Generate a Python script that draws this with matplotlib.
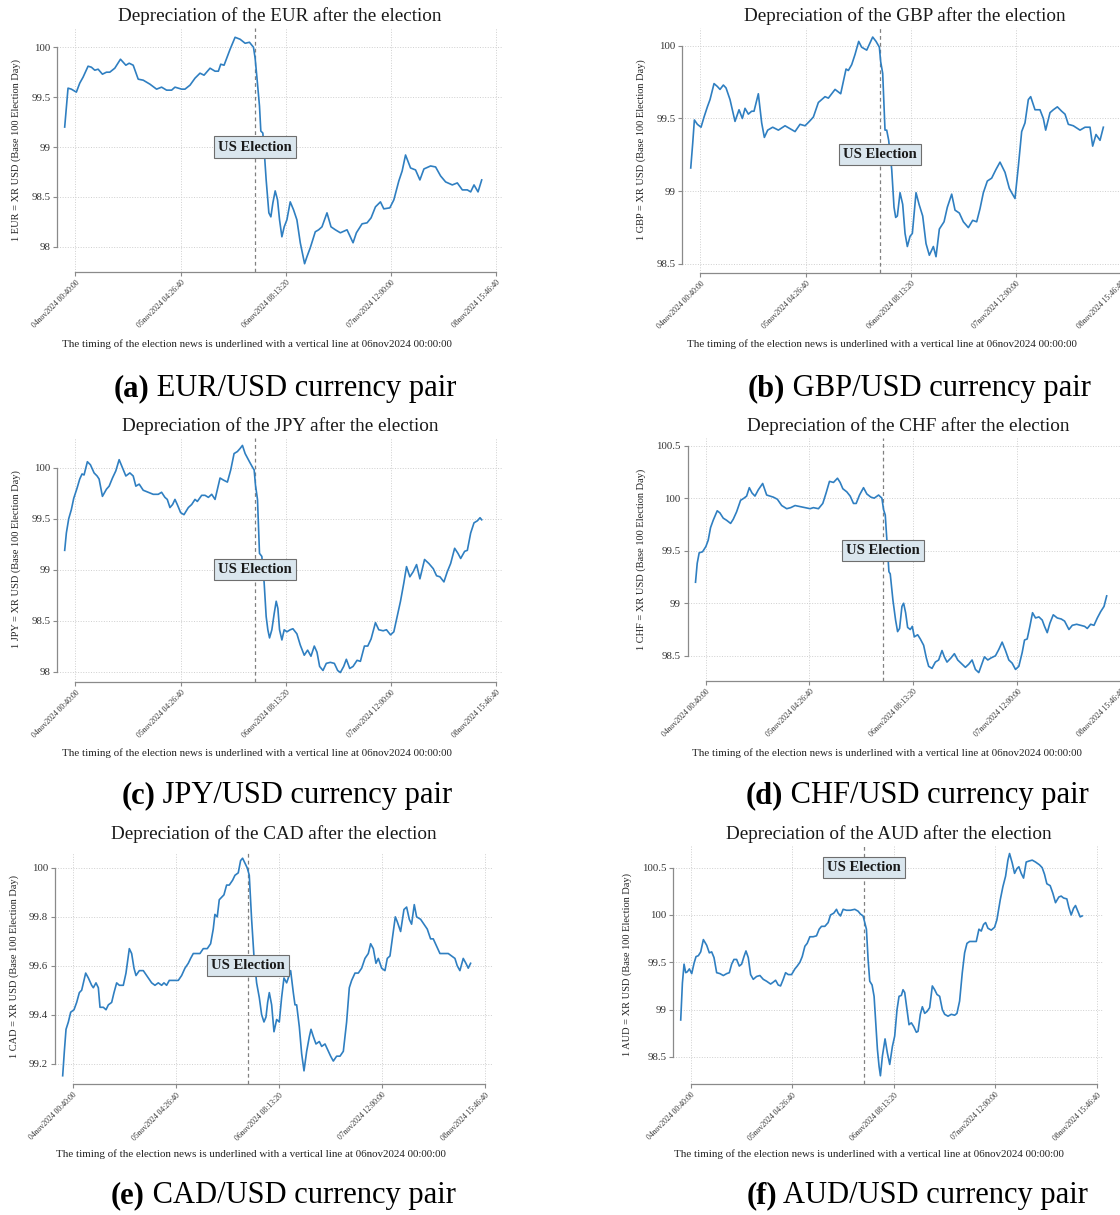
import matplotlib
matplotlib.use("Agg")
import matplotlib.pyplot as plt

plt.rcParams['font.family'] = ['Liberation Serif', 'DejaVu Serif']

# ---- data (x = hours since 04nov2024 00:00, y = index, base 100 on election day) ----
eur_hours = [-2.15, -1.27, -0.39, 0.93, 1.82, 2.70, 4.02, 4.90, 5.79, 6.67, 7.81, 8.87, 9.75, 11.07,
             12.57, 13.99, 14.87, 15.93, 17.25, 18.57, 20.34, 22.10, 23.42, 24.74, 26.07, 26.95, 28.71,
             29.59, 30.92, 32.24, 33.56, 34.62, 36.21, 37.53, 38.41, 39.03, 39.91, 41.50, 42.82, 44.15,
             45.47, 46.61, 47.67, 48.11, 48.55, 49.26, 49.61, 50.14, 50.49, 51.02, 51.73, 52.26, 52.79,
             53.40, 54.02, 54.55, 55.17, 55.78, 56.49, 57.37, 58.25, 59.13, 60.02, 61.16, 61.78, 62.66,
             63.98, 64.87, 65.75, 67.07, 68.13, 69.28, 70.60, 72.36, 73.95, 74.83, 76.33, 77.65, 78.71,
             79.86, 81.18, 82.06, 83.65, 84.71, 86.03, 86.91, 87.80, 89.12, 90.44, 91.59, 92.65, 94.41,
             95.73, 97.05, 98.38, 100.14, 101.46, 102.79, 104.11, 104.99, 105.87, 106.93, 107.90]
eur_values = [99.20, 99.59, 99.58, 99.55, 99.64, 99.70, 99.81, 99.80, 99.77, 99.78, 99.73, 99.75, 99.75, 99.79,
              99.88, 99.82, 99.84, 99.82, 99.68, 99.67, 99.63, 99.58, 99.60, 99.57, 99.57, 99.60, 99.58,
              99.58, 99.62, 99.69, 99.74, 99.72, 99.79, 99.76, 99.76, 99.83, 99.82, 99.98, 100.10, 100.08,
              100.04, 100.05, 100.00, 99.89, 99.71, 99.41, 99.16, 99.14, 98.97, 98.67, 98.34, 98.30, 98.44,
              98.56, 98.47, 98.27, 98.10, 98.20, 98.27, 98.45, 98.37, 98.27, 98.04, 97.83, 97.90, 97.99,
              98.15, 98.17, 98.20, 98.34, 98.20, 98.17, 98.14, 98.17, 98.04, 98.14, 98.23, 98.24, 98.29,
              98.40, 98.45, 98.38, 98.39, 98.47, 98.66, 98.76, 98.92, 98.79, 98.77, 98.67, 98.78, 98.81,
              98.80, 98.71, 98.65, 98.62, 98.64, 98.57, 98.57, 98.55, 98.62, 98.55, 98.67]

gbp_hours = [-1.87, -1.35, -0.91, -0.12, 0.85, 1.64, 2.52, 3.22, 4.28, 5.16, 5.86, 6.74, 7.45, 8.50, 9.82,
             10.88, 11.76, 12.46, 13.34, 14.22, 14.84, 15.98, 16.86, 17.57, 18.45, 19.77, 21.27, 23.03,
             24.35, 25.67, 26.99, 28.31, 29.46, 30.51, 31.83, 32.71, 33.59, 34.47, 36.24, 37.73, 39.14,
             39.75, 40.63, 41.51, 42.48, 43.27, 44.60, 46.18, 47.06, 47.94, 48.29, 48.82, 49.43, 49.88,
             50.40, 51.20, 51.81, 52.25, 52.69, 53.40, 54.10, 54.72, 55.33, 56.04, 56.65, 57.62, 58.42,
             59.38, 60.26, 61.14, 62.20, 62.90, 63.78, 65.02, 65.89, 67.04, 67.92, 69.06, 70.12, 71.44,
             72.58, 73.64, 74.52, 75.40, 76.45, 77.60, 78.74, 79.80, 81.12, 82.26, 82.88, 83.76, 84.64,
             85.52, 86.40, 87.28, 87.90, 89.04, 90.36, 91.24, 91.86, 93.00, 93.88, 94.94, 96.08, 96.96,
             97.84, 99.16, 100.93, 102.25, 103.57, 104.27, 105.15, 106.21, 107.09]
gbp_values = [99.16, 99.33, 99.49, 99.46, 99.44, 99.51, 99.58, 99.63, 99.74, 99.72, 99.70, 99.73, 99.71, 99.63,
              99.48, 99.56, 99.50, 99.57, 99.53, 99.55, 99.55, 99.67, 99.47, 99.37, 99.42, 99.44, 99.42,
              99.45, 99.43, 99.41, 99.46, 99.45, 99.48, 99.51, 99.61, 99.63, 99.65, 99.64, 99.70, 99.67,
              99.84, 99.83, 99.87, 99.94, 100.03, 99.99, 99.97, 100.06, 100.03, 99.99, 99.89, 99.81, 99.42,
              99.42, 99.35, 99.15, 98.89, 98.82, 98.83, 98.99, 98.91, 98.71, 98.62, 98.69, 98.71, 98.99,
              98.91, 98.83, 98.64, 98.56, 98.62, 98.55, 98.74, 98.79, 98.89, 98.98, 98.87, 98.85, 98.79,
              98.75, 98.80, 98.79, 98.88, 98.99, 99.07, 99.09, 99.15, 99.20, 99.13, 99.02, 98.99, 98.95,
              99.17, 99.41, 99.47, 99.63, 99.65, 99.56, 99.56, 99.50, 99.42, 99.54, 99.56, 99.58, 99.55,
              99.53, 99.46, 99.45, 99.42, 99.44, 99.44, 99.31, 99.39, 99.35, 99.44]

jpy_hours = [-2.15, -1.71, -1.09, -0.39, 0.23, 1.11, 1.82, 2.43, 2.96, 3.84, 4.64, 5.61, 6.40, 6.93, 7.81,
             8.87, 9.58, 10.46, 11.34, 12.22, 13.10, 13.99, 15.05, 15.93, 16.63, 17.51, 18.57, 19.89, 21.22,
             22.54, 23.42, 24.30, 24.92, 25.63, 26.33, 26.95, 27.56, 28.45, 29.33, 30.48, 31.36, 32.24,
             32.86, 34.00, 34.89, 35.77, 36.65, 37.53, 38.85, 39.73, 40.79, 41.67, 42.55, 43.43, 44.14,
             44.76, 45.47, 46.61, 47.50, 47.85, 48.20, 48.73, 49.26, 49.88, 50.49, 51.02, 51.46, 51.91,
             52.52, 53.14, 53.67, 54.11, 54.55, 55.17, 55.78, 56.49, 57.37, 58.08, 59.13, 60.02, 61.07,
             61.96, 62.84, 63.72, 64.43, 65.13, 66.01, 66.89, 67.95, 69.01, 69.89, 70.60, 71.48, 72.18,
             73.07, 73.95, 75.01, 75.89, 76.95, 77.83, 78.71, 79.86, 80.74, 81.89, 82.77, 83.83, 84.71,
             85.59, 86.47, 87.35, 88.06, 88.94, 89.82, 90.71, 91.59, 92.82, 93.97, 95.11, 95.99, 96.88,
             97.93, 98.82, 99.70, 100.76, 101.64, 102.35, 103.40, 104.11, 104.99, 105.87, 106.76, 107.46,
             107.90]
jpy_values = [99.19, 99.36, 99.50, 99.59, 99.70, 99.80, 99.89, 99.94, 99.93, 100.06, 100.03, 99.95, 99.92,
              99.89, 99.72, 99.79, 99.82, 99.90, 99.97, 100.08, 100.00, 99.92, 99.95, 99.92, 99.82, 99.84,
              99.78, 99.76, 99.74, 99.74, 99.76, 99.71, 99.69, 99.61, 99.64, 99.69, 99.64, 99.56, 99.54,
              99.61, 99.64, 99.69, 99.67, 99.73, 99.73, 99.71, 99.74, 99.69, 99.90, 99.88, 99.86, 99.98,
              100.14, 100.16, 100.19, 100.22, 100.14, 100.06, 100.00, 99.98, 99.83, 99.69, 99.16, 99.13,
              98.87, 98.54, 98.41, 98.33, 98.41, 98.57, 98.69, 98.62, 98.41, 98.31, 98.41, 98.39, 98.41,
              98.42, 98.37, 98.26, 98.16, 98.21, 98.15, 98.25, 98.19, 98.05, 98.01, 98.08, 98.09, 98.08,
              98.01, 97.99, 98.05, 98.12, 98.03, 98.05, 98.11, 98.10, 98.25, 98.25, 98.32, 98.48, 98.41,
              98.40, 98.41, 98.36, 98.39, 98.54, 98.69, 98.87, 99.03, 98.93, 98.98, 99.05, 98.91, 99.10,
              99.06, 99.01, 98.94, 98.93, 98.88, 98.98, 99.06, 99.21, 99.16, 99.11, 99.18, 99.19, 99.36,
              99.46, 99.48, 99.51, 99.49]

chf_hours = [-2.01, -1.56, -1.03, -0.13, 0.76, 1.38, 2.01, 2.72, 3.79, 4.51, 5.40, 6.29, 7.37, 8.08, 8.97,
             10.04, 10.94, 11.65, 12.37, 13.08, 13.88, 14.78, 15.94, 17.01, 17.90, 18.79, 19.87, 21.03,
             22.37, 23.44, 24.60, 25.94, 27.28, 28.62, 29.51, 30.85, 32.01, 32.90, 33.80, 34.87, 35.94,
             36.65, 37.37, 38.44, 39.33, 40.22, 40.94, 41.83, 42.90, 43.79, 44.87, 45.76, 46.92, 47.81,
             48.26, 48.71, 49.15, 49.69, 50.04, 50.76, 51.47, 52.01, 52.54, 53.17, 53.62, 54.15, 54.69,
             55.40, 55.94, 56.47, 57.37, 58.08, 58.97, 59.69, 60.31, 61.21, 62.10, 62.99, 63.88, 64.51,
             65.22, 66.29, 67.19, 68.08, 69.24, 70.13, 71.03, 71.92, 72.81, 73.71, 74.60, 75.22, 76.12,
             77.01, 78.17, 79.06, 79.96, 80.85, 81.74, 82.63, 83.53, 84.42, 85.31, 85.94, 86.65, 87.37,
             88.08, 88.88, 89.78, 90.67, 91.29, 92.01, 92.72, 93.62, 94.69, 95.76, 96.65, 97.81, 98.71,
             99.87, 100.94, 102.01, 102.72, 103.62, 104.51, 105.40, 106.29, 107.19, 107.90]
chf_values = [99.20, 99.38, 99.48, 99.49, 99.54, 99.60, 99.72, 99.79, 99.88, 99.86, 99.81, 99.79, 99.76,
              99.80, 99.87, 99.98, 100.00, 100.02, 100.10, 100.05, 100.02, 100.08, 100.14, 100.03, 100.02,
              100.01, 99.99, 99.93, 99.90, 99.91, 99.93, 99.92, 99.91, 99.90, 99.91, 99.90, 99.95, 100.05,
              100.16, 100.15, 100.19, 100.15, 100.09, 100.06, 100.02, 99.95, 99.95, 100.03, 100.10, 100.04,
              100.01, 100.00, 100.03, 100.00, 99.89, 99.84, 99.60, 99.30, 99.28, 99.03, 98.84, 98.73, 98.76,
              98.97, 99.00, 98.91, 98.77, 98.75, 98.78, 98.68, 98.70, 98.66, 98.60, 98.48, 98.40, 98.38,
              98.44, 98.46, 98.55, 98.49, 98.44, 98.48, 98.52, 98.46, 98.42, 98.39, 98.42, 98.46, 98.37,
              98.34, 98.43, 98.49, 98.46, 98.48, 98.50, 98.56, 98.63, 98.55, 98.46, 98.43, 98.37, 98.40,
              98.53, 98.65, 98.66, 98.78, 98.91, 98.86, 98.87, 98.84, 98.78, 98.72, 98.81, 98.89, 98.86,
              98.85, 98.83, 98.75, 98.79, 98.80, 98.79, 98.78, 98.76, 98.80, 98.79, 98.86, 98.92, 98.97,
              99.07]

cad_hours = [-2.03, -1.58, -1.13, -0.50, 0.13, 1.02, 1.74, 2.46, 3.09, 3.54, 4.17, 4.89, 5.78, 6.23, 6.95,
             7.58, 8.03, 8.93, 9.65, 10.28, 11.17, 11.80, 12.52, 13.24, 14.31, 15.03, 15.93, 16.56, 17.19,
             17.73, 18.63, 19.70, 20.60, 21.95, 22.84, 23.74, 24.64, 25.27, 25.98, 26.70, 27.78, 29.13,
             30.03, 30.92, 31.82, 32.45, 33.17, 34.07, 34.97, 35.86, 36.94, 37.84, 38.55, 39.00, 39.63,
             40.17, 40.80, 41.43, 42.15, 42.87, 43.77, 44.40, 45.29, 45.92, 46.46, 47.09, 47.72, 48.26,
             48.89, 49.52, 50.24, 50.96, 51.59, 52.22, 52.76, 53.21, 53.66, 54.29, 54.92, 55.64, 56.35,
             56.98, 57.61, 58.33, 58.78, 59.41, 60.13, 60.58, 61.03, 61.75, 62.38, 63.01, 63.73, 64.45,
             64.90, 65.53, 66.24, 67.14, 67.77, 68.67, 69.57, 70.19, 70.91, 71.81, 72.71, 73.61, 74.50,
             75.22, 75.85, 76.75, 77.65, 78.55, 79.44, 80.34, 80.97, 81.69, 82.41, 83.04, 83.94, 84.83,
             85.46, 86.18, 86.90, 87.62, 88.15, 89.05, 89.95, 90.67, 91.39, 92.01, 92.73, 93.36, 94.44,
             95.34, 96.23, 97.13, 97.85, 98.75, 99.65, 100.72, 101.89, 102.79, 103.69, 104.31, 105.03,
             105.93, 106.65, 107.28, 107.91]
cad_values = [99.15, 99.25, 99.34, 99.37, 99.41, 99.42, 99.45, 99.49, 99.50, 99.53, 99.57, 99.55, 99.52,
              99.51, 99.53, 99.51, 99.43, 99.43, 99.42, 99.44, 99.45, 99.49, 99.53, 99.52, 99.52, 99.57,
              99.67, 99.65, 99.59, 99.56, 99.58, 99.58, 99.56, 99.53, 99.52, 99.53, 99.52, 99.53, 99.52,
              99.54, 99.54, 99.54, 99.56, 99.59, 99.61, 99.63, 99.65, 99.65, 99.65, 99.67, 99.67, 99.69,
              99.75, 99.81, 99.80, 99.87, 99.88, 99.89, 99.93, 99.93, 99.95, 99.97, 99.98, 100.03, 100.04,
              100.02, 100.00, 99.97, 99.79, 99.64, 99.53, 99.47, 99.40, 99.37, 99.39, 99.45, 99.49, 99.44,
              99.33, 99.38, 99.37, 99.47, 99.55, 99.53, 99.55, 99.58, 99.49, 99.44, 99.44, 99.35, 99.24,
              99.17, 99.25, 99.31, 99.34, 99.31, 99.28, 99.29, 99.27, 99.28, 99.25, 99.23, 99.21, 99.23,
              99.23, 99.25, 99.37, 99.51, 99.54, 99.57, 99.57, 99.59, 99.63, 99.65, 99.69, 99.67, 99.61,
              99.63, 99.59, 99.58, 99.63, 99.64, 99.72, 99.80, 99.78, 99.74, 99.83, 99.84, 99.79, 99.77,
              99.85, 99.80, 99.79, 99.77, 99.75, 99.71, 99.71, 99.68, 99.65, 99.65, 99.65, 99.64, 99.63,
              99.60, 99.58, 99.63, 99.61, 99.59, 99.61]

aud_hours = [-2.07, -1.61, -1.16, -0.70, -0.25, 0.30, 0.94, 1.58, 2.12, 2.76, 3.40, 4.13, 5.04, 5.76, 6.40,
             7.04, 7.77, 8.68, 9.59, 10.50, 11.23, 11.87, 12.50, 13.23, 13.96, 14.60, 15.24, 15.79, 16.42,
             17.06, 17.79, 18.70, 19.61, 20.52, 21.43, 22.53, 23.26, 23.90, 24.62, 25.26, 25.99, 26.63,
             27.36, 28.27, 29.18, 29.82, 30.55, 31.19, 31.92, 32.55, 33.28, 34.19, 35.10, 35.83, 36.47,
             37.38, 38.29, 38.93, 39.84, 40.57, 41.02, 41.66, 42.39, 43.30, 44.39, 45.58, 46.49, 47.12,
             47.85, 48.31, 48.76, 49.22, 49.67, 50.31, 50.86, 51.31, 51.77, 52.22, 52.59, 53.14, 53.86,
             54.50, 55.14, 55.87, 56.50, 57.14, 57.69, 58.33, 58.78, 59.24, 59.88, 60.42, 61.06, 61.70,
             62.43, 62.89, 63.52, 64.07, 64.71, 65.35, 66.07, 66.80, 67.44, 68.08, 68.81, 69.54, 70.18,
             71.09, 72.00, 72.91, 73.54, 74.27, 75.00, 75.64, 76.28, 77.01, 77.92, 78.83, 79.56, 80.19,
             80.83, 81.38, 82.02, 82.93, 83.84, 84.48, 85.39, 86.12, 86.85, 87.49, 87.94, 88.67, 89.31,
             89.95, 90.49, 91.13, 91.77, 92.50, 93.23, 94.14, 95.05, 96.14, 96.87, 97.51, 98.15, 99.06,
             99.79, 100.52, 101.43, 102.07, 102.71, 103.62, 104.17, 104.81, 105.45, 105.99, 106.63,
             107.27, 107.81]
aud_values = [98.89, 99.28, 99.48, 99.39, 99.40, 99.43, 99.38, 99.49, 99.56, 99.57, 99.61, 99.74, 99.68,
              99.60, 99.61, 99.55, 99.39, 99.38, 99.36, 99.38, 99.39, 99.48, 99.53, 99.53, 99.46, 99.48,
              99.56, 99.62, 99.55, 99.37, 99.32, 99.35, 99.36, 99.32, 99.30, 99.27, 99.29, 99.31, 99.26,
              99.25, 99.32, 99.39, 99.37, 99.37, 99.43, 99.46, 99.50, 99.56, 99.67, 99.70, 99.77, 99.77,
              99.78, 99.85, 99.88, 99.88, 99.92, 100.00, 100.02, 100.06, 100.02, 99.99, 100.06, 100.05,
              100.05, 100.06, 100.04, 100.01, 99.99, 99.92, 99.85, 99.53, 99.30, 99.26, 99.14, 98.86,
              98.58, 98.40, 98.30, 98.51, 98.69, 98.54, 98.42, 98.61, 98.72, 99.00, 99.14, 99.15, 99.21,
              99.18, 99.00, 98.84, 98.86, 98.82, 98.76, 98.77, 98.95, 99.03, 98.96, 98.98, 99.02, 99.25,
              99.21, 99.16, 99.14, 99.00, 98.95, 98.93, 98.95, 98.94, 98.96, 99.09, 99.39, 99.60, 99.70,
              99.72, 99.72, 99.72, 99.85, 99.83, 99.90, 99.92, 99.86, 99.84, 99.87, 99.95, 100.16, 100.30,
              100.41, 100.58, 100.65, 100.55, 100.44, 100.49, 100.51, 100.44, 100.39, 100.56, 100.57,
              100.58, 100.56, 100.53, 100.50, 100.43, 100.33, 100.31, 100.23, 100.13, 100.19, 100.20,
              100.18, 100.17, 100.08, 100.00, 100.07, 100.10, 100.04, 99.98, 99.99]

# x axis ticks (Stata style, every 100000 s starting 04nov2024 00:40:00)
x_ticks = [0.6667, 28.4444, 56.2222, 84.0, 111.7778]
x_tick_labels = ["04nov2024 00:40:00", "05nov2024 04:26:40", "06nov2024 08:13:20",
                 "07nov2024 12:00:00", "08nov2024 15:46:40"]
election_hour = 48.0

currencies = ["EUR", "GBP", "JPY", "CHF", "CAD", "AUD"]
series = [(eur_hours, eur_values), (gbp_hours, gbp_values), (jpy_hours, jpy_values),
          (chf_hours, chf_values), (cad_hours, cad_values), (aud_hours, aud_values)]
y_ticks = [[98, 98.5, 99, 99.5, 100],
           [98.5, 99, 99.5, 100],
           [98, 98.5, 99, 99.5, 100],
           [98.5, 99, 99.5, 100, 100.5],
           [99.2, 99.4, 99.6, 99.8, 100],
           [98.5, 99, 99.5, 100, 100.5]]
box_y = [99.0, 99.25, 99.0, 99.5, 99.6, 100.5]
panel_letters = ["a", "b", "c", "d", "e", "f"]

# layout (pixels in a 1120x1215 canvas)
W, H = 1120, 1215
regions = [(57.3, 28.3, 503.3, 271.7), (682.3, 28.3, 1128, 272.7),
           (57.3, 438.3, 503.3, 681.7), (687.7, 438.3, 1128, 681.0),
           (55.0, 853.3, 491.7, 1084.3), (673.3, 845.0, 1103.3, 1084.3)]
ylims = [(97.75, 100.19), (98.44, 100.12), (97.90, 100.29),
         (98.26, 100.57), (99.115, 100.06), (98.21, 100.74)]
title_pos = [(280, 21), (905, 21), (280, 430.7), (908, 430.7), (274, 839), (889, 839)]
note_pos = [(257, 347), (882, 347), (257, 755.7), (887, 755.7), (251, 1157), (869, 1157)]
ylab_pos = [(16, 150), (641, 150), (16, 559), (641, 559), (14, 966), (627, 965)]
cap_pos = [(285, 396), (919, 396), (287, 803), (917, 803), (283, 1203), (917, 1203)]

line_color = '#2f7fc1'
axis_color = '#8a8a8a'

fig = plt.figure(figsize=(W / 100, H / 100), dpi=100)

for i, cur in enumerate(currencies):
    l, t, r, b = regions[i]
    ax = fig.add_axes([l / W, 1 - b / H, (r - l) / W, (b - t) / H])
    hours, vals = series[i]
    ax.plot(hours, vals, color=line_color, lw=1.2, zorder=3)
    ax.axvline(election_hour, color='#808080', ls=(0, (3, 2.5)), lw=0.9, zorder=2)
    ax.text(election_hour, box_y[i], "US Election", ha='center', va='center', fontsize=10.5,
            fontweight='bold', color='#1a1a1a', zorder=5,
            bbox=dict(boxstyle='square,pad=0.28', fc='#dae6ee', ec='#6e6e6e', lw=0.8))

    ax.set_xlim(-4.1, 113.6)
    ax.set_ylim(*ylims[i])
    ax.set_xticks(x_ticks)
    ax.set_xticklabels(x_tick_labels, rotation=45, ha='right', rotation_mode='anchor', fontsize=5.6)
    ax.set_yticks(y_ticks[i])
    ax.set_yticklabels([f"{v:g}" for v in y_ticks[i]], fontsize=7.8)
    ax.grid(True, ls=':', color='#cfcfcf', lw=0.7)
    ax.set_axisbelow(True)

    for s in ['top', 'right']:
        ax.spines[s].set_visible(False)
    for s in ['left', 'bottom']:
        ax.spines[s].set_color(axis_color)
        ax.spines[s].set_linewidth(0.9)
    ax.spines['left'].set_bounds(y_ticks[i][0], y_ticks[i][-1])
    ax.spines['bottom'].set_bounds(x_ticks[0], x_ticks[-1])
    ax.tick_params(axis='both', direction='out', length=3, width=0.8, color=axis_color,
                   labelcolor='#333333', pad=2)

    tx, ty = title_pos[i]
    fig.text(tx / W, 1 - ty / H, f"Depreciation of the {cur} after the election",
             ha='center', va='baseline', fontsize=13.8, color='#1a1a1a')
    nx, ny = note_pos[i]
    fig.text(nx / W, 1 - ny / H,
             "The timing of the election news is underlined with a vertical line at 06nov2024 00:00:00",
             ha='center', va='baseline', fontsize=7.9, color='#222222')
    yx, yy = ylab_pos[i]
    fig.text(yx / W, 1 - yy / H, f"1 {cur} = XR USD (Base 100 Election Day)", rotation=90,
             ha='center', va='center', fontsize=7.5, color='#222222')

# captions: bold panel letter + regular text, centred as a whole
fig.canvas.draw()
renderer = fig.canvas.get_renderer()
for i, cur in enumerate(currencies):
    cx, cy = cap_pos[i]
    t1 = fig.text(0, 1 - cy / H, f"({panel_letters[i]})", fontsize=22, fontweight='bold',
                  ha='left', va='baseline')
    t2 = fig.text(0, 1 - cy / H, f" {cur}/USD currency pair", fontsize=22,
                  ha='left', va='baseline')
    w1 = t1.get_window_extent(renderer).width
    w2 = t2.get_window_extent(renderer).width
    x0 = cx - (w1 + w2) / 2
    t1.set_x(x0 / W)
    t2.set_x((x0 + w1) / W)

fig.savefig("out.png", dpi=100)
